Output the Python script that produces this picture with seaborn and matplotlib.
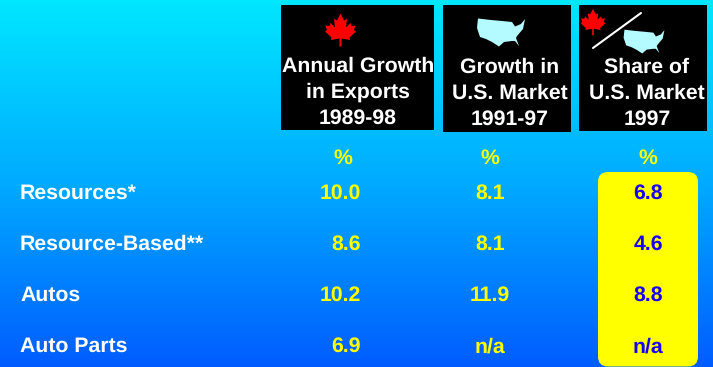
import numpy as np
import matplotlib
matplotlib.use("Agg")
import matplotlib.pyplot as plt
from matplotlib.colors import LinearSegmentedColormap
from matplotlib.patches import Polygon, Rectangle, FancyBboxPatch
import seaborn as sns

categories = ["Resources*", "Resource-Based**", "Autos", "Auto Parts"]
export_growth = ["10.0", "8.6", "10.2", "6.9"]
market_growth = ["8.1", "8.1", "11.9", "n/a"]
market_share = ["6.8", "4.6", "8.8", "n/a"]
headers = [["Annual Growth", "in Exports", "1989-98"],
           ["Growth in", "U.S. Market", "1991-97"],
           ["Share of", "U.S. Market", "1997"]]
unit = "%"

W, H = 713, 367
sns.set_theme(style="white")
plt.rcParams["font.family"] = ["Liberation Sans", "DejaVu Sans"]
plt.rcParams["font.weight"] = "bold"
plt.rcParams["text.hinting"] = "no_hinting"
plt.rcParams["text.kerning_factor"] = 0

fig = plt.figure(figsize=(W / 100, H / 100), dpi=100)
bg = fig.add_axes([0, 0, 1, 1])
cmap = LinearSegmentedColormap.from_list("bg", ["#00E6FF", "#00AAFF", "#005CFF"])
sns.heatmap(np.linspace(0, 1, H).reshape(-1, 1), cmap=cmap, cbar=False, ax=bg,
            xticklabels=False, yticklabels=False, vmin=0, vmax=1)
bg.axis("off")

ax = fig.add_axes([0, 0, 1, 1])
ax.patch.set_alpha(0)
ax.set_xlim(0, W)
ax.set_ylim(H, 0)
ax.axis("off")

FS = 15.3
YEL = "#FFFF00"
BLU = "#1A00F0"

boxes = [(281, 5, 153, 125), (443, 5, 128, 127), (579, 5, 128, 126)]
for x, y, w, h in boxes:
    ax.add_patch(Rectangle((x, y), w, h, fc="black", ec="none", zorder=1))

leaf_half = [(0, -16.5), (3.5, -9.5), (6.5, -11), (5.5, -2.5), (10, -7), (11, -4),
             (15, -4.5), (13.5, 0), (15.5, 1.5), (9, 7.5), (9.5, 10), (1, 8.5), (1, 16.5)]
leaf = np.array(leaf_half + [(-x, y) for x, y in reversed(leaf_half)])
us = np.array([(-23, -14.5), (-10, -13), (1, -12), (11, -11), (14, -6.5), (20, -9), (24, -14),
               (22, -4), (16, 3), (15, 5), (18, 13), (14, 8), (11, 8), (3, 9), (-2, 13.5),
               (-9, 9), (-15, 6), (-21, 4), (-24, -5)])

def shape(pts, cx, cy, s, fc, z=2):
    ax.add_patch(Polygon(pts * s + [cx, cy], closed=True, fc=fc, ec="none", zorder=z))

shape(leaf, 340.5, 30, 1.0, "#FF0000")
shape(us, 501, 33, 1.0, "#B4FBFF")
shape(leaf, 593, 22, 0.8, "#FF0000")
shape(us, 644, 42, 0.85, "#B4FBFF")
ax.plot([593, 641], [48, 13], color="white", lw=1.5, zorder=2)

header_x = [358, 510, 647]
header_y = [[64, 90, 116], [65.5, 91.5, 117.5], [65.5, 91.5, 117.5]]
for cx, ys, lines in zip(header_x, header_y, headers):
    for y, line in zip(ys, lines):
        ax.text(cx, y, line, color="white", fontsize=FS, ha="center", va="center_baseline", zorder=3)

for cx in (343, 490, 648):
    ax.text(cx, 156, unit, color=YEL, fontsize=FS, ha="center", va="center_baseline", zorder=3)

ax.add_patch(FancyBboxPatch((598, 172), 100, 194.5, boxstyle="round,pad=0,rounding_size=10",
                            fc=YEL, ec="none", zorder=1, clip_on=True))

rows_y = [191.5, 242.5, 293.5, 344.5]
for y, c, a, b, s in zip(rows_y, categories, export_growth, market_growth, market_share):
    ax.text(20, y, c, color="white", fontsize=FS, ha="left", va="center_baseline", zorder=3)
    ax.text(361, y, a, color=YEL, fontsize=FS, ha="right", va="center_baseline", zorder=3)
    ax.text(490, y, b, color=YEL, fontsize=FS, ha="center", va="center_baseline", zorder=3)
    ax.text(648, y, s, color=BLU, fontsize=FS, ha="center", va="center_baseline", zorder=3)

fig.savefig("out.png", dpi=100)
